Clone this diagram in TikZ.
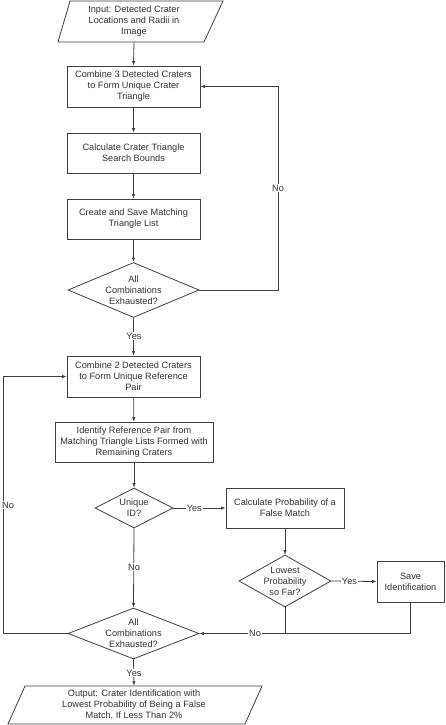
\documentclass[tikz,border=0pt]{standalone}
\usepackage{fontspec}
\setmainfont{Liberation Sans}
\usetikzlibrary{shapes.geometric,arrows.meta,calc}
\definecolor{ln}{HTML}{404040}
\definecolor{tx}{HTML}{333333}
\begin{document}
\begin{tikzpicture}[x=1pt,y=-1pt,
  every node/.style={font=\fontsize{9.2}{11}\selectfont,text=tx,align=center},
  proc/.style={draw=ln,line width=0.8pt,rectangle,inner sep=1pt},
  dec/.style={draw=ln,line width=0.8pt,diamond,inner sep=0pt},
  io/.style={rectangle,inner sep=1pt},
  lbl/.style={fill=white,inner sep=1pt},
  conn/.style={draw=ln,line width=0.8pt},
  arr/.style={conn,-{Latex[length=4.5pt,width=3.5pt]}}]
\useasboundingbox (0,0) rectangle (446,725);
\fill[white] (0,0) rectangle (446,725);
% nodes
\node[io,minimum height=41pt] (in) at (134,21.5) {Input: Detected Crater\\Locations and Radii in\\Image};
\draw[conn] (70,1) -- (223,1) -- (204,42) -- (58,42) -- cycle;
\node[proc,minimum width=133pt,minimum height=41pt] (b1) at (133.5,86.5) {Combine 3 Detected Craters\\to Form Unique Crater\\Triangle};
\node[proc,minimum width=133pt,minimum height=40pt] (b2) at (133.5,153) {Calculate Crater Triangle\\Search Bounds};
\node[proc,minimum width=133pt,minimum height=40pt] (b3) at (133.5,219) {Create and Save Matching\\Triangle List};
\node[dec,aspect=2.38,minimum width=131pt,minimum height=55pt] (d1) at (133.5,290) {All\\Combinations\\Exhausted?};
\node[proc,minimum width=133pt,minimum height=41pt] (b4) at (133.5,376.5) {Combine 2 Detected Craters\\to Form Unique Reference\\Pair};
\node[proc,minimum width=158pt,minimum height=40pt] (b5) at (134,442) {Identify Reference Pair from\\Matching Triangle Lists Formed with\\Remaining Craters};
\node[dec,aspect=1.95,minimum width=78pt,minimum height=40pt] (d2) at (134,508) {Unique\\ID?};
\node[proc,minimum width=118pt,minimum height=40pt] (b6) at (285,508) {Calculate Probability of a\\False Match};
\node[dec,aspect=1.77,minimum width=92pt,minimum height=52pt,inner sep=-2pt] (d3) at (285,581) {Lowest\\Probability\\so Far?};
\node[proc,minimum width=67pt,minimum height=41pt] (sv) at (410.5,581.5) {Save\\Identification};
\node[dec,aspect=2.57,minimum width=131pt,minimum height=51pt] (d4) at (133.5,633.5) {All\\Combinations\\Exhausted?};
\node[io,minimum height=38pt] (out) at (134,705) {Output: Crater Identification with\\Lowest Probability of Being a False\\Match, If Less Than 2\%};
\draw[conn] (25,686) -- (262,686) -- (245,724) -- (8,724) -- cycle;
% connectors
\draw[arr] (in.south) -- (b1.north);
\draw[arr] (b1) -- (b2);
\draw[arr] (b2) -- (b3);
\draw[arr] (b3) -- (d1);
\coordinate (r1) at (278,290);
\draw[arr] (d1.east) -- (r1) |- (b1.east);
\node[lbl] at (278,188) {No};
\draw[arr] (d1.south) -- (b4.north);
\node[lbl] at (134,336) {Yes};
\draw[arr] (b4) -- (b5);
\draw[arr] (b5) -- (d2);
\draw[arr] (d2.east) -- node[lbl,pos=0.4] {Yes} (b6.west);
\draw[arr] (d2.south) -- (d4.north);
\node[lbl] at (134,567) {No};
\draw[arr] (b6) -- (d3);
\draw[arr] (d3.east) -- node[lbl,pos=0.4] {Yes} (sv.west);
\draw[arr] (sv.south) |- (d4.east);
\draw[conn] (d3.south) -- (d3.south |- d4.east);
\node[lbl] at (255,633.5) {No};
\coordinate (l1) at (3,633.5);
\draw[arr] (d4.west) -- (l1) |- (b4.west);
\node[lbl] at (8,505) {No};
\draw[arr] (d4.south) -- (out.north);
\node[lbl] at (134,673) {Yes};
\end{tikzpicture}
\end{document}
